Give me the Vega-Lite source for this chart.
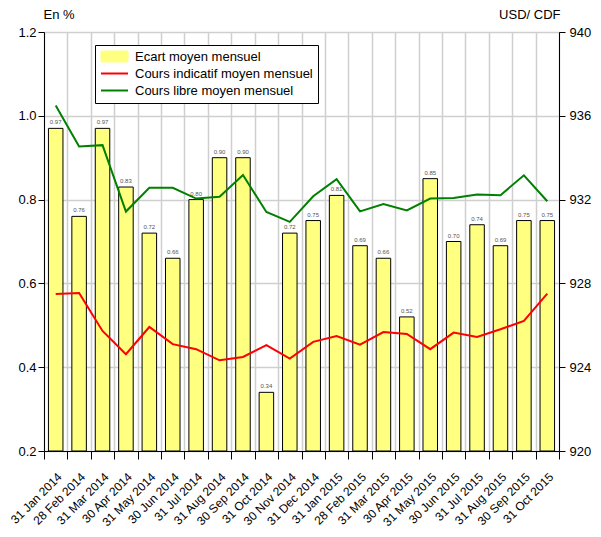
{
  "$schema": "https://vega.github.io/schema/vega-lite/v6.json",
  "width": 515,
  "height": 419,
  "autosize": {"type": "none"},
  "padding": {"left": 44, "top": 32, "right": 42, "bottom": 86},
  "config": {
    "font": "Liberation Sans",
    "view": {"stroke": "black", "strokeWidth": 1},
    "axis": {
      "domainColor": "black",
      "tickColor": "black",
      "labelColor": "black",
      "titleColor": "black",
      "gridColor": "#cfcfcf",
      "gridWidth": 1.5,
      "labelFontSize": 13,
      "titleFontSize": 13,
      "titleFontWeight": "normal"
    },
    "legend": {
      "orient": "none",
      "legendX": 51,
      "legendY": 13,
      "strokeColor": "black",
      "fillColor": "white",
      "padding": 5,
      "labelFontSize": 13,
      "labelLimit": 400,
      "labelColor": "black",
      "symbolSize": 100,
      "symbolOffset": 8,
      "labelOffset": 14,
      "rowPadding": 3
    }
  },
  "data": {
    "values": [
      {"date": "31 Jan 2014", "ecart": 0.97, "indicatif": 927.49, "libre": 936.49},
      {"date": "28 Feb 2014", "ecart": 0.76, "indicatif": 927.54, "libre": 934.54},
      {"date": "31 Mar 2014", "ecart": 0.97, "indicatif": 925.73, "libre": 934.6},
      {"date": "30 Apr 2014", "ecart": 0.83, "indicatif": 924.62, "libre": 931.43},
      {"date": "31 May 2014", "ecart": 0.72, "indicatif": 925.92, "libre": 932.56},
      {"date": "30 Jun 2014", "ecart": 0.66, "indicatif": 925.1, "libre": 932.56},
      {"date": "31 Jul 2014", "ecart": 0.8, "indicatif": 924.86, "libre": 932.05},
      {"date": "31 Aug 2014", "ecart": 0.9, "indicatif": 924.33, "libre": 932.14},
      {"date": "30 Sep 2014", "ecart": 0.9, "indicatif": 924.49, "libre": 933.17},
      {"date": "31 Oct 2014", "ecart": 0.34, "indicatif": 925.05, "libre": 931.41},
      {"date": "30 Nov 2014", "ecart": 0.72, "indicatif": 924.41, "libre": 930.94},
      {"date": "31 Dec 2014", "ecart": 0.75, "indicatif": 925.21, "libre": 932.16},
      {"date": "31 Jan 2015", "ecart": 0.81, "indicatif": 925.49, "libre": 932.98},
      {"date": "28 Feb 2015", "ecart": 0.69, "indicatif": 925.08, "libre": 931.44},
      {"date": "31 Mar 2015", "ecart": 0.66, "indicatif": 925.68, "libre": 931.79},
      {"date": "30 Apr 2015", "ecart": 0.52, "indicatif": 925.59, "libre": 931.48},
      {"date": "31 May 2015", "ecart": 0.85, "indicatif": 924.86, "libre": 932.05},
      {"date": "30 Jun 2015", "ecart": 0.7, "indicatif": 925.65, "libre": 932.08},
      {"date": "31 Jul 2015", "ecart": 0.74, "indicatif": 925.44, "libre": 932.24},
      {"date": "31 Aug 2015", "ecart": 0.69, "indicatif": 925.81, "libre": 932.21},
      {"date": "30 Sep 2015", "ecart": 0.75, "indicatif": 926.21, "libre": 933.16},
      {"date": "31 Oct 2015", "ecart": 0.75, "indicatif": 927.51, "libre": 931.92}
    ]
  },
  "encoding": {
    "x": {
      "field": "date",
      "type": "ordinal",
      "sort": null,
      "scale": {"paddingInner": 0, "paddingOuter": 0},
      "axis": {
        "title": null,
        "tickBand": "extent",
        "grid": true,
        "labelAngle": -45,
        "labelAlign": "right",
        "labelBaseline": "top",
        "labelFontSize": 12,
        "labelPadding": 12,
        "tickSize": 8
      }
    }
  },
  "layer": [
    {
      "encoding": {
        "y": {
          "field": "ecart",
          "type": "quantitative",
          "scale": {"domain": [0.2, 1.2], "nice": false, "zero": false},
          "axis": {
            "title": "En %",
            "titleAngle": 0,
            "titleAlign": "left",
            "titleBaseline": "alphabetic",
            "titleX": -1,
            "titleY": -14,
            "values": [0.2, 0.4, 0.6, 0.8, 1.0, 1.2],
            "format": ".1f",
            "grid": true,
            "tickSize": 6,
            "labelPadding": 2
          }
        }
      },
      "layer": [
        {
          "mark": {"type": "bar", "stroke": "black", "strokeWidth": 1, "width": {"band": 0.62}},
          "encoding": {
            "y2": {"datum": 0.2},
            "color": {
              "datum": "Ecart moyen mensuel",
              "type": "nominal",
              "scale": {
                "domain": ["Ecart moyen mensuel", "Cours indicatif moyen mensuel", "Cours libre moyen mensuel"],
                "range": ["#FFFF80", "#FF0000", "#008000"]
              },
              "legend": {
                "title": null,
                "encode": {
                  "symbols": {
                    "update": {
                      "shape": {"signal": "datum.value === 'Ecart moyen mensuel' ? 'M-2.7,-1.1H2.7V1.1H-2.7Z' : 'M-2.7,0H2.7'"},
                      "fill": {"signal": "datum.value === 'Ecart moyen mensuel' ? '#FFFF80' : 'transparent'"},
                      "stroke": {"signal": "datum.value === 'Ecart moyen mensuel' ? 'black' : (datum.value === 'Cours indicatif moyen mensuel' ? '#FF0000' : '#008000')"},
                      "strokeWidth": {"signal": "datum.value === 'Ecart moyen mensuel' ? 1 : 2"},
                      "opacity": {"value": 1}
                    }
                  }
                }
              }
            }
          }
        },
        {
          "mark": {"type": "text", "baseline": "bottom", "dy": -3, "fontSize": 6, "color": "#555555"},
          "encoding": {
            "text": {"field": "ecart", "type": "quantitative", "format": ".2f"}
          }
        }
      ]
    },
    {
      "encoding": {
        "y": {
          "type": "quantitative",
          "scale": {"domain": [920, 940], "nice": false, "zero": false},
          "axis": {
            "orient": "right",
            "title": "USD/ CDF",
            "titleAngle": 0,
            "titleAlign": "right",
            "titleBaseline": "alphabetic",
            "titleX": 1,
            "titleY": -14,
            "values": [920, 924, 928, 932, 936, 940],
            "grid": false,
            "tickSize": 6,
            "labelPadding": 4
          }
        }
      },
      "layer": [
        {
          "mark": {"type": "line", "strokeWidth": 2},
          "encoding": {
            "y": {"field": "indicatif", "type": "quantitative"},
            "color": {
              "datum": "Cours indicatif moyen mensuel",
              "type": "nominal",
              "legend": {
                "title": null,
                "encode": {
                  "symbols": {
                    "update": {
                      "shape": {"signal": "datum.value === 'Ecart moyen mensuel' ? 'M-2.7,-1.1H2.7V1.1H-2.7Z' : 'M-2.7,0H2.7'"},
                      "fill": {"signal": "datum.value === 'Ecart moyen mensuel' ? '#FFFF80' : 'transparent'"},
                      "stroke": {"signal": "datum.value === 'Ecart moyen mensuel' ? 'black' : (datum.value === 'Cours indicatif moyen mensuel' ? '#FF0000' : '#008000')"},
                      "strokeWidth": {"signal": "datum.value === 'Ecart moyen mensuel' ? 1 : 2"},
                      "opacity": {"value": 1}
                    }
                  }
                }
              }
            }
          }
        },
        {
          "mark": {"type": "line", "strokeWidth": 2},
          "encoding": {
            "y": {"field": "libre", "type": "quantitative"},
            "color": {
              "datum": "Cours libre moyen mensuel",
              "type": "nominal",
              "legend": {
                "title": null,
                "encode": {
                  "symbols": {
                    "update": {
                      "shape": {"signal": "datum.value === 'Ecart moyen mensuel' ? 'M-2.7,-1.1H2.7V1.1H-2.7Z' : 'M-2.7,0H2.7'"},
                      "fill": {"signal": "datum.value === 'Ecart moyen mensuel' ? '#FFFF80' : 'transparent'"},
                      "stroke": {"signal": "datum.value === 'Ecart moyen mensuel' ? 'black' : (datum.value === 'Cours indicatif moyen mensuel' ? '#FF0000' : '#008000')"},
                      "strokeWidth": {"signal": "datum.value === 'Ecart moyen mensuel' ? 1 : 2"},
                      "opacity": {"value": 1}
                    }
                  }
                }
              }
            }
          }
        }
      ]
    }
  ],
  "resolve": {"scale": {"y": "independent"}}
}
